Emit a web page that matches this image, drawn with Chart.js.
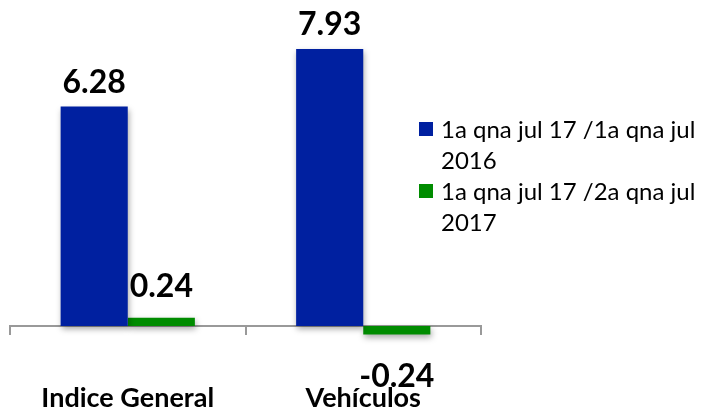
<!DOCTYPE html>
<html>
<head>
<meta charset="utf-8">
<script src="https://cdn.jsdelivr.net/npm/chart.js@4.4.1/dist/chart.umd.min.js"></script>
<style>
  html, body { margin: 0; padding: 0; background: #fff; }
  #wrap { position: relative; width: 705px; height: 412px; }
</style>
</head>
<body>
<div id="wrap"><canvas id="chart" width="705" height="412"></canvas></div>
<script>
const CATEGORIES = ['Indice General', 'Vehículos'];
const SERIES_LABELS = [
  ['1a qna jul 17 /1a qna jul', '2016'],
  ['1a qna jul 17 /2a qna jul', '2017'],
];
const ANUAL = [6.28, 7.93];
const QUINCENAL = [0.24, -0.24];

const BLUE = '#0020a0';
const GREEN = '#008c00';
const FONT = 'Lato, "Open Sans", sans-serif';
// gap between bar end and its value label, per series
const LABEL_GAP = [14, 21];

// soft shadow under the bars, like the office chart
const barShadow = {
  id: 'barShadow',
  beforeDatasetsDraw(chart) {
    const ctx = chart.ctx;
    ctx.save();
    ctx.shadowColor = 'rgba(0,0,0,0.35)';
    ctx.shadowBlur = 6;
    ctx.shadowOffsetX = 1;
    ctx.shadowOffsetY = 3;
  },
  afterDatasetsDraw(chart) {
    chart.ctx.restore();
  },
};

const valueLabels = {
  id: 'valueLabels',
  afterDatasetsDraw(chart) {
    const ctx = chart.ctx;
    ctx.save();
    ctx.fillStyle = '#000';
    ctx.font = `bold 32px ${FONT}`;
    ctx.textAlign = 'center';
    chart.data.datasets.forEach((ds, i) => {
      chart.getDatasetMeta(i).data.forEach((bar, j) => {
        const v = ds.data[j];
        if (v >= 0) {
          ctx.textBaseline = 'alphabetic';
          ctx.fillText(v.toFixed(2), bar.x, bar.y - LABEL_GAP[i]);
        } else {
          ctx.textBaseline = 'top';
          ctx.fillText(v.toFixed(2), bar.x, bar.y + 26);
        }
      });
    });
    ctx.restore();
  },
};

const sideLegend = {
  id: 'sideLegend',
  afterDraw(chart) {
    const ctx = chart.ctx;
    const x0 = chart.chartArea.right - 62;
    let y = 122;
    ctx.save();
    ctx.font = `24px ${FONT}`;
    ctx.textBaseline = 'middle';
    ctx.textAlign = 'left';
    chart.data.datasets.forEach((ds, i) => {
      ctx.fillStyle = ds.backgroundColor;
      ctx.fillRect(x0, y, 14, 14);
      ctx.fillStyle = '#000';
      SERIES_LABELS[i].forEach((line, k) => {
        ctx.fillText(line, x0 + 22, y + 8 + k * 31);
      });
      y += 62;
    });
    ctx.restore();
  },
};

new Chart(document.getElementById('chart'), {
  type: 'bar',
  data: {
    labels: CATEGORIES,
    datasets: [
      { label: SERIES_LABELS[0].join(' '), data: ANUAL, backgroundColor: BLUE },
      { label: SERIES_LABELS[1].join(' '), data: QUINCENAL, backgroundColor: GREEN },
    ],
  },
  options: {
    responsive: false,
    animation: false,
    layout: { padding: { left: 10, right: 224, top: 0, bottom: 0 } },
    datasets: {
      bar: { categoryPercentage: 0.57, barPercentage: 1.0 },
    },
    scales: {
      y: {
        display: false,
        min: -2.46,
        max: 9.33,
      },
      x: {
        position: { y: 0 },
        // wide bold labels shouldn't push the plot area inwards
        afterFit(scale) {
          scale.paddingLeft = 0;
          scale.paddingRight = 0;
        },
        grid: {
          offset: true,
          drawOnChartArea: false,
          tickLength: 8,
          color: '#999',
          lineWidth: 2,
        },
        border: { color: '#999', width: 2 },
        ticks: {
          color: '#000',
          padding: 48,
          font: { family: FONT, size: 27, weight: 'bold' },
        },
      },
    },
    plugins: {
      legend: { display: false },
      tooltip: { enabled: false },
    },
  },
  plugins: [barShadow, valueLabels, sideLegend],
});
</script>
</body>
</html>
